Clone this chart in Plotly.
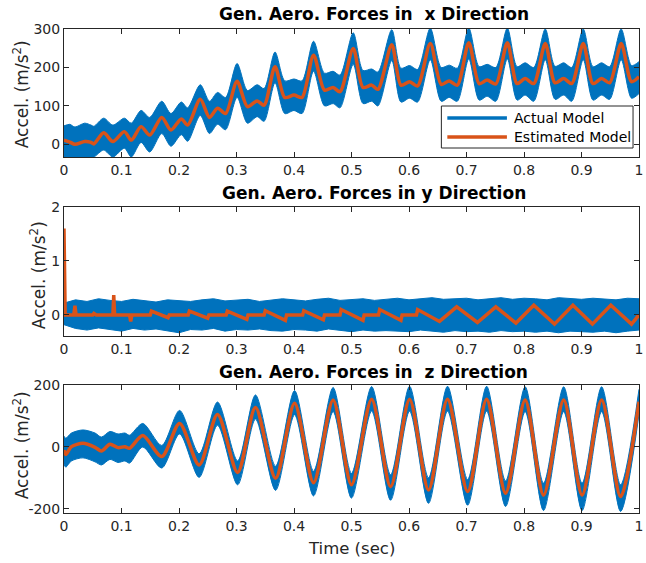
import plotly.graph_objects as go

# ---------------- data ----------------
# Top: x-direction
TIME_X = [0.000, 0.010, 0.019, 0.036, 0.047, 0.052, 0.069, 0.085, 0.105, 0.117,
          0.134, 0.149, 0.170, 0.186, 0.204, 0.215, 0.237, 0.253, 0.267, 0.281,
          0.301, 0.319, 0.336, 0.348, 0.367, 0.384, 0.400, 0.414, 0.434, 0.453,
          0.468, 0.480, 0.503, 0.520, 0.535, 0.546, 0.570, 0.586, 0.601, 0.615,
          0.637, 0.656, 0.670, 0.684, 0.704, 0.722, 0.736, 0.751, 0.771, 0.788,
          0.802, 0.817, 0.837, 0.854, 0.869, 0.883, 0.903, 0.920, 0.935, 0.949,
          0.969, 0.987, 1.000]
EST_X = [11, 6, 0, 7, 5, 1, 30, 7, 33, 11,
         46, 24, 70, 37, 66, 50, 117, 70, 94, 80,
         164, 98, 113, 102, 202, 122, 128, 122, 232, 141,
         148, 137, 249, 148, 154, 143, 259, 154, 163, 152,
         262, 156, 165, 154, 264, 158, 167, 157, 264, 158,
         171, 158, 262, 160, 171, 158, 262, 158, 171, 160,
         262, 163, 176]
ACT_X_HI = [48, 52, 45, 55, 50, 47, 68, 50, 68, 55,
            88, 70, 112, 80, 110, 95, 155, 112, 135, 122,
            210, 140, 155, 145, 240, 165, 170, 165, 268, 185,
            190, 180, 290, 192, 196, 188, 298, 198, 205, 195,
            302, 200, 206, 198, 302, 202, 208, 200, 302, 202,
            212, 200, 300, 203, 212, 200, 300, 202, 212, 202,
            300, 205, 215]
ACT_X_LO = [-33, -33, -33, -33, -33, -33, -15, -33, -10, -33,
            5, -20, 28, -5, 25, 8, 75, 28, 52, 38,
            122, 55, 72, 60, 160, 80, 88, 80, 190, 100,
            106, 95, 208, 106, 112, 100, 218, 110, 120, 110,
            220, 112, 122, 112, 222, 115, 125, 112, 222, 115,
            128, 112, 220, 117, 128, 112, 220, 115, 128, 117,
            220, 120, 132]

# Middle: y-direction
TIME_Y = [0.000, 0.002, 0.017, 0.019, 0.021, 0.050, 0.052, 0.056, 0.085, 0.0865,
          0.088, 0.114, 0.116, 0.118, 0.150, 0.152, 0.181, 0.183, 0.216, 0.218,
          0.250, 0.252, 0.282, 0.284, 0.318, 0.320, 0.348, 0.350, 0.385, 0.387,
          0.415, 0.417, 0.451, 0.453, 0.480, 0.482, 0.520, 0.522, 0.547, 0.549,
          0.586, 0.588, 0.613, 0.615, 0.653, 0.683, 0.719, 0.751, 0.786, 0.817,
          0.853, 0.885, 0.919, 0.951, 0.987, 1.000]
EST_Y = [1.60, 0.00, 0.00, 0.17, 0.00, 0.00, 0.03, 0.00, 0.00, 0.37,
         0.00, 0.00, -0.12, 0.00, 0.00, 0.07, -0.05, 0.00, 0.00, 0.07,
         -0.06, 0.00, 0.00, 0.07, -0.08, 0.00, 0.00, 0.08, -0.10, 0.00,
         0.00, 0.08, -0.09, 0.00, 0.00, 0.10, -0.10, 0.00, 0.00, 0.10,
         -0.10, 0.00, 0.00, 0.10, -0.12, 0.15, -0.14, 0.15, -0.15, 0.18,
         -0.17, 0.18, -0.17, 0.18, -0.17, 0.00]
TIME_Y_ACT = [i / 50 for i in range(51)]
ACT_Y_HI = [0.22, 0.28, 0.25, 0.30, 0.27, 0.25, 0.29, 0.26, 0.24, 0.28,
            0.27, 0.25, 0.28, 0.30, 0.26, 0.27, 0.29, 0.25, 0.27, 0.30,
            0.28, 0.26, 0.29, 0.31, 0.27, 0.28, 0.30, 0.27, 0.29, 0.31,
            0.28, 0.30, 0.32, 0.29, 0.30, 0.31, 0.28, 0.30, 0.32, 0.29,
            0.31, 0.30, 0.28, 0.32, 0.30, 0.29, 0.31, 0.30, 0.28, 0.31, 0.30]
ACT_Y_LO = [-0.18, -0.25, -0.28, -0.24, -0.27, -0.30, -0.25, -0.28, -0.26, -0.30,
            -0.33, -0.27, -0.28, -0.25, -0.30, -0.27, -0.28, -0.26, -0.29, -0.30,
            -0.27, -0.28, -0.30, -0.26, -0.29, -0.31, -0.28, -0.30, -0.29, -0.30,
            -0.31, -0.28, -0.30, -0.32, -0.29, -0.31, -0.30, -0.32, -0.29, -0.31,
            -0.30, -0.32, -0.30, -0.33, -0.30, -0.31, -0.32, -0.30, -0.33, -0.30, -0.28]

# Bottom: z-direction
TIME_Z = [0.000, 0.003, 0.013, 0.033, 0.054, 0.065, 0.080, 0.094, 0.106, 0.114,
          0.137, 0.170, 0.201, 0.235, 0.267, 0.302, 0.333, 0.368, 0.401, 0.434,
          0.468, 0.500, 0.535, 0.568, 0.601, 0.634, 0.667, 0.702, 0.735, 0.768,
          0.802, 0.834, 0.869, 0.901, 0.935, 0.968, 1.000]
EST_Z = [-10, -24, 1, 12, -1, -13, 9, -2, 1, -4,
         37, -31, 76, -58, 105, -82, 127, -101, 141, -115,
         152, -122, 154, -128, 154, -139, 154, -144, 154, -149,
         152, -155, 152, -155, 152, -160, 146]
ACT_Z_HI = [35, 28, 45, 55, 45, 32, 50, 42, 45, 38,
            76, 5, 118, -22, 145, -45, 168, -62, 182, -78,
            192, -85, 195, -90, 196, -100, 196, -105, 196, -110,
            194, -117, 194, -117, 194, -122, 186]
ACT_Z_LO = [-55, -65, -45, -35, -48, -58, -40, -50, -45, -52,
            0, -68, 42, -98, 70, -122, 90, -140, 104, -158,
            114, -165, 116, -172, 116, -182, 116, -188, 116, -192,
            114, -205, 114, -205, 114, -208, 106]

X_TICKS = [0, 0.1, 0.2, 0.3, 0.4, 0.5, 0.6, 0.7, 0.8, 0.9, 1]
X_TICKTEXT = ["0", "0.1", "0.2", "0.3", "0.4", "0.5", "0.6", "0.7", "0.8", "0.9", "1"]
Y_TICKS_X = [0, 100, 200, 300]
Y_TICKS_Y = [0, 1, 2]
Y_TICKS_Z = [-200, 0, 200]
Y_TICKTEXT_Z = ["-200", "0", "200"]

TITLES = ["Gen. Aero. Forces in \u00a0x Direction",
          "Gen. Aero. Forces in y Direction",
          "Gen. Aero. Forces in \u00a0z Direction"]
LEGEND_NAMES = ["Actual Model", "Estimated Model"]

# ---------------- styling ----------------
BLUE = "#0072BD"
ORANGE = "#D95319"
AX = "#262626"
FONT = "DejaVu Sans"

W, H = 646, 563
L, R, T, B = 64, 3, 29, 50
PW, PH = W - L - R, H - T - B


def px(xp):
    return (xp - L) / PW


def py(yp):
    return (H - B - yp) / PH


fig = go.Figure()

panels = [
    (TIME_X, EST_X, TIME_X, ACT_X_HI, ACT_X_LO, "spline", "spline", "x", "y"),
    (TIME_Y, EST_Y, TIME_Y_ACT, ACT_Y_HI, ACT_Y_LO, "linear", "linear", "x2", "y2"),
    (TIME_Z, EST_Z, TIME_Z, ACT_Z_HI, ACT_Z_LO, "spline", "spline", "x3", "y3"),
]
for (te, est, ta, hi, lo, eshape, ashape, xa, ya) in panels:
    fig.add_trace(go.Scatter(x=ta, y=lo, mode="lines", xaxis=xa, yaxis=ya,
                             line=dict(color=BLUE, width=1, shape=ashape, smoothing=0.8),
                             showlegend=False, hoverinfo="skip"))
    fig.add_trace(go.Scatter(x=ta, y=hi, mode="lines", xaxis=xa, yaxis=ya, fill="tonexty",
                             fillcolor=BLUE,
                             line=dict(color=BLUE, width=1, shape=ashape, smoothing=0.8),
                             showlegend=False, hoverinfo="skip"))
    fig.add_trace(go.Scatter(x=te, y=est, mode="lines", xaxis=xa, yaxis=ya,
                             line=dict(color=ORANGE, width=3.5, shape=eshape, smoothing=0.8),
                             showlegend=False))

domains = [[py(157), py(29)], [py(336), py(207)], [0, py(385)]]
ranges = [[-33, 300], [-0.39, 2], [-213, 200]]
yticks = [(Y_TICKS_X, None), (Y_TICKS_Y, None), (Y_TICKS_Z, Y_TICKTEXT_Z)]

common = dict(showline=True, mirror="ticks", linecolor=AX, linewidth=1,
              ticks="inside", ticklen=5, tickcolor=AX, tickwidth=1,
              showgrid=False, zeroline=False, ticklabeloverflow="allow",
              tickfont=dict(family=FONT, size=14, color=AX))

layout = dict(width=W, height=H, margin=dict(l=L, r=R, t=T, b=B),
              paper_bgcolor="white", plot_bgcolor="white", showlegend=False,
              font=dict(family=FONT, color=AX))
for i in range(3):
    sfx = "" if i == 0 else str(i + 1)
    layout["xaxis" + sfx] = dict(common, domain=[0, 1], range=[0, 1],
                                 tickvals=X_TICKS, ticktext=X_TICKTEXT,
                                 anchor="y" + sfx)
    yd = dict(common, domain=domains[i], range=ranges[i], tickvals=yticks[i][0],
              anchor="x" + sfx)
    if yticks[i][1] is not None:
        yd["ticktext"] = yticks[i][1]
    layout["yaxis" + sfx] = yd
fig.update_layout(**layout)

annotations = []
title_y = [14, 193, 372]
for i in range(3):
    annotations.append(dict(text="<b>" + TITLES[i] + "</b>", xref="paper", yref="paper",
                            x=px(376), y=py(title_y[i]), xanchor="center", yanchor="middle",
                            showarrow=False, font=dict(family=FONT, size=17, color="black")))
ylab_pos = [(21, 94), (38, 275), (21, 445)]
for i in range(3):
    annotations.append(dict(text="Accel. (m/s<sup>2</sup>)", xref="paper", yref="paper",
                            x=px(ylab_pos[i][0]), y=py(ylab_pos[i][1]),
                            xanchor="center", yanchor="middle",
                            textangle=-90, showarrow=False,
                            font=dict(family=FONT, size=17, color=AX)))
annotations.append(dict(text="Time (sec)", xref="paper", yref="paper",
                        x=px(354), y=py(548), xanchor="center", yanchor="middle",
                        showarrow=False, font=dict(family=FONT, size=16.5, color=AX)))

# manual legend (MATLAB style)
shapes = [dict(type="rect", xref="paper", yref="paper", x0=px(444), x1=px(637),
               y0=py(148), y1=py(106), fillcolor="white", line=dict(color=AX, width=1),
               layer="above")]
for j, (col, yc) in enumerate([(BLUE, 118), (ORANGE, 137)]):
    shapes.append(dict(type="line", xref="paper", yref="paper", x0=px(450), x1=px(510),
                       y0=py(yc), y1=py(yc), line=dict(color=col, width=3.5), layer="above"))
    annotations.append(dict(text=LEGEND_NAMES[j], xref="paper", yref="paper",
                            x=px(515), y=py(yc), xanchor="left", yanchor="middle",
                            showarrow=False, font=dict(family=FONT, size=14, color="black")))

fig.update_layout(annotations=annotations, shapes=shapes)
fig.write_html("out.html", config={"displayModeBar": False},
               post_script="document.body.style.margin='0';")
